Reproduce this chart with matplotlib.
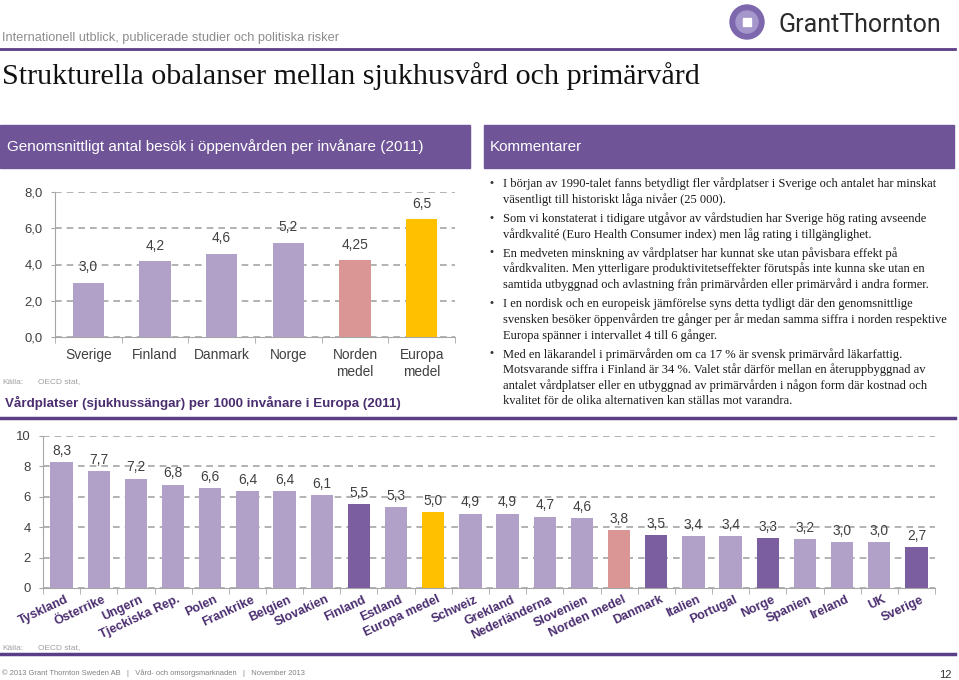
import numpy as np
import matplotlib.pyplot as plt
from matplotlib.patches import Rectangle, Circle, RegularPolygon
from matplotlib import font_manager

W, H = 959, 680

# --- data -------------------------------------------------------------
top_cats = ['Sverige', 'Finland', 'Danmark', 'Norge', 'Norden\nmedel', 'Europa\nmedel']
top_vals = [3.0, 4.2, 4.6, 5.2, 4.25, 6.5]

eu_cats = ['Tyskland', 'Österrike', 'Ungern', 'Tjeckiska Rep.', 'Polen', 'Frankrike',
           'Belgien', 'Slovakien', 'Finland', 'Estland', 'Europa medel', 'Schweiz',
           'Grekland', 'Nederländerna', 'Slovenien', 'Norden medel', 'Danmark',
           'Italien', 'Portugal', 'Norge', 'Spanien', 'Ireland', 'UK', 'Sverige']
eu_vals = [8.3, 7.7, 7.2, 6.8, 6.6, 6.4, 6.4, 6.1, 5.5, 5.3, 5.0, 4.9,
           4.9, 4.7, 4.6, 3.8, 3.5, 3.4, 3.4, 3.3, 3.2, 3.0, 3.0, 2.7]
nordic = ['Finland', 'Danmark', 'Norge', 'Sverige']

comments = [
    ['I början av 1990-talet fanns betydligt fler vårdplatser i Sverige och antalet har minskat',
     'väsentligt till historiskt låga nivåer (25 000).'],
    ['Som vi konstaterat i tidigare utgåvor av vårdstudien har Sverige hög rating avseende',
     'vårdkvalité (Euro Health Consumer index) men låg rating i tillgänglighet.'],
    ['En medveten minskning av vårdplatser har kunnat ske utan påvisbara effekt på',
     'vårdkvaliten. Men ytterligare produktivitetseffekter förutspås inte kunna ske utan en',
     'samtida utbyggnad och avlastning från primärvården eller primärvård i andra former.'],
    ['I en nordisk och en europeisk jämförelse syns detta tydligt där den genomsnittlige',
     'svensken besöker öppenvården tre gånger per år medan samma siffra i norden respektive',
     'Europa spänner i intervallet 4 till 6 gånger.'],
    ['Med en läkarandel i primärvården om ca 17 % är svensk primärvård läkarfattig.',
     'Motsvarande siffra i Finland är 34 %. Valet står därför mellan en återuppbyggnad av',
     'antalet vårdplatser eller en utbyggnad av primärvården i någon form där kostnad och',
     'kvalitet för de olika alternativen kan ställas mot varandra.'],
]

# --- colours ----------------------------------------------------------
PURPLE = '#6F5597'
DARK = '#4B2E70'
LIGHT_BAR = '#B1A0C7'
DARK_BAR = '#7B5EA0'
PINK = '#D99694'
YELLOW = '#FFC000'
GRID = '#A6A6A6'
TXT = '#404040'

names = {f.name for f in font_manager.fontManager.ttflist}
NARROW = 'Liberation Sans Narrow' if 'Liberation Sans Narrow' in names else 'Liberation Sans'
SCALE = 1.0 if NARROW != 'Liberation Sans' else 0.9


def bar_color(name):
    if 'Europa' in name:
        return YELLOW
    if 'Norden' in name:
        return PINK
    return LIGHT_BAR


def fmt(v):
    s = f'{v:.2f}'.rstrip('0')
    if s.endswith('.'):
        s += '0'
    return s.replace('.', ',')


def px_axes(x0, y0, x1, y1):
    return fig.add_axes([x0 / W, 1 - y1 / H, (x1 - x0) / W, (y1 - y0) / H])


plt.rcParams['font.family'] = ['Liberation Sans', 'DejaVu Sans']
fig = plt.figure(figsize=(W / 100, H / 100), dpi=100)

# background layer in pixel coordinates
bg = fig.add_axes([0, 0, 1, 1])
bg.set_xlim(0, W)
bg.set_ylim(H, 0)
bg.axis('off')

bg.text(2, 38, 'Internationell utblick, publicerade studier och politiska risker',
        fontsize=9.2, color='#8C8C8C', va='center')
bg.plot([0, 955], [49, 49], color='#5B3F86', lw=2)
bg.text(2, 76, 'Strukturella obalanser mellan sjukhusvård och primärvård',
        fontsize=21.6, family='Liberation Serif', color='#111111', va='center')

# logo
bg.add_patch(Circle((747, 22), 17, color='#7D68AE'))
bg.add_patch(Circle((747, 22), 11, color='#A596CC'))
bg.add_patch(RegularPolygon((747, 22), 4, radius=6, orientation=np.pi / 4, color='white'))
bg.text(778, 25, 'GrantThornton', fontsize=18, family='Roboto', color='#2b2b2b', va='center')

# header boxes
bg.add_patch(Rectangle((0, 125), 470, 43, color=PURPLE))
bg.add_patch(Rectangle((484, 125), 470, 43, color=PURPLE))
bg.text(7, 147, 'Genomsnittligt antal besök i öppenvården per invånare (2011)',
        fontsize=11, color='white', va='center')
bg.text(490, 147, 'Kommentarer', fontsize=11, color='white', va='center')

# comments
y = 184
for para in comments:
    bg.text(490, y - 1, '•', fontsize=8, color='#333333', va='center')
    for line in para:
        bg.text(503, y, line, fontsize=9, family='Liberation Serif',
                color='#1a1a1a', va='center')
        y += 15.7
    y += 3.3

bg.text(2, 382, 'Källa:', fontsize=6, color='#A0A0A0', va='center')
bg.text(38, 382, 'OECD stat,', fontsize=6, color='#A0A0A0', va='center')
bg.text(5, 403, 'Vårdplatser (sjukhussängar) per 1000 invånare i Europa (2011)',
        fontsize=9.6, fontweight='bold', color=DARK, va='center')
bg.plot([0, 955], [418, 418], color='#5B3F86', lw=2.5)

bg.text(2, 648, 'Källa:', fontsize=6, color='#A0A0A0', va='center')
bg.text(38, 648, 'OECD stat,', fontsize=6, color='#A0A0A0', va='center')
bg.plot([0, 955], [654, 654], color='#5B3F86', lw=2.5)
bg.text(2, 673, '© 2013 Grant Thornton Sweden AB   |   Vård- och omsorgsmarknaden   |   November 2013',
        fontsize=5.4, color='#808080', va='center')
bg.text(952, 675, '12', fontsize=8, color='#333333', va='center', ha='right')


def style_axes(ax, n):
    ax.set_facecolor('none')
    for s in ['top', 'right']:
        ax.spines[s].set_visible(False)
    for s in ['left', 'bottom']:
        ax.spines[s].set_color(GRID)
    ax.yaxis.grid(True, color=GRID, linestyle=(0, (4, 3)), lw=1.2)
    ax.set_axisbelow(True)
    ax.set_xlim(-0.5, n - 0.5)
    ax.set_xticks(np.arange(n + 1) - 0.5, minor=True)
    ax.tick_params(axis='x', which='major', length=0)
    ax.tick_params(axis='x', which='minor', length=4, color=GRID)
    ax.tick_params(axis='y', length=3, color=GRID, labelcolor=TXT, pad=6)
    for t in ax.get_yticklabels():
        t.set_family(NARROW)
        t.set_fontsize(10.5 * SCALE)


# --- top chart --------------------------------------------------------
ax1 = px_axes(55, 192, 455, 337)
x1 = np.arange(len(top_cats))
ax1.bar(x1, top_vals, width=0.47, color=[bar_color(c) for c in top_cats], zorder=3)
ax1.set_ylim(0, 8)
ax1.set_yticks([0, 2, 4, 6, 8])
ax1.set_yticklabels(['0,0', '2,0', '4,0', '6,0', '8,0'])
style_axes(ax1, len(top_cats))
ax1.set_xticks(x1)
ax1.set_xticklabels(top_cats, fontsize=11 * SCALE, family=NARROW, color=TXT, linespacing=1.25)
ax1.tick_params(axis='x', pad=8)
for xi, v in zip(x1, top_vals):
    ax1.annotate(fmt(v), (xi, v), xytext=(0, 6), textcoords='offset points',
                 ha='center', va='bottom', fontsize=11 * SCALE, family=NARROW,
                 color=TXT, zorder=4)

# --- bottom chart -----------------------------------------------------
ax2 = px_axes(43, 436, 935, 588)
x2 = np.arange(len(eu_cats))
cols = [DARK_BAR if c in nordic else bar_color(c) for c in eu_cats]
ax2.bar(x2, eu_vals, width=0.6, color=cols, zorder=3)
ax2.set_ylim(0, 10)
ax2.set_yticks([0, 2, 4, 6, 8, 10])
style_axes(ax2, len(eu_cats))
ax2.set_xticks(x2 + 0.1)
ax2.set_xticklabels(eu_cats, rotation=25, ha='right', rotation_mode='anchor',
                    fontsize=10 * SCALE, family=NARROW, fontweight='bold', color=DARK)
ax2.tick_params(axis='x', pad=4)
for xi, v in zip(x2, eu_vals):
    ax2.annotate(fmt(v), (xi, v), xytext=(0, 3), textcoords='offset points',
                 ha='center', va='bottom', fontsize=11 * SCALE, family=NARROW,
                 color=TXT, zorder=4)
ax2.spines['left'].set_bounds(0, 10)

fig.savefig('out.png', dpi=100)
